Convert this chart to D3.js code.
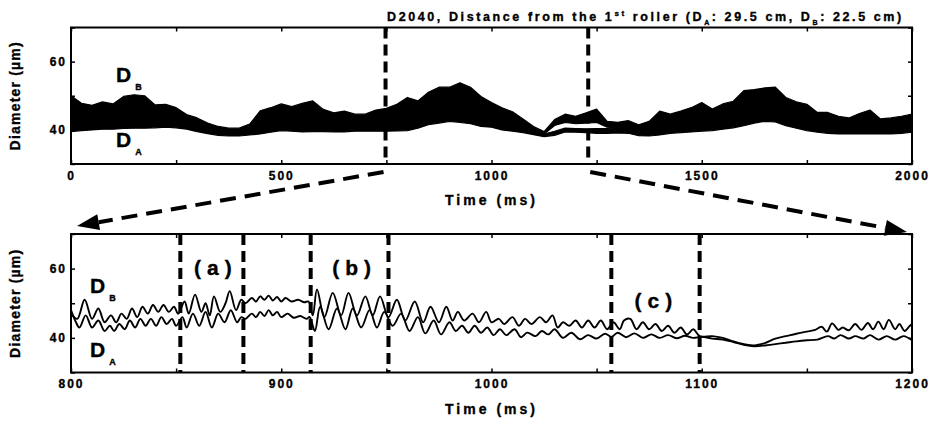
<!DOCTYPE html>
<html>
<head>
<meta charset="utf-8">
<script src="https://cdn.jsdelivr.net/npm/d3@7"></script>
<style>
  body { margin: 0; background: #fff; }
  text { font-family: "Liberation Sans", Arial, sans-serif; font-weight: bold; fill: #000; stroke: #000; stroke-width: 0.35px; }
</style>
</head>
<body>
<script>
// ---- data ----
// top panel: envelope of the noisy traces, every 25 ms
const topTime = [0,25,50,75,100,125,150,175,200,225,250,275,300,325,350,375,400,425,450,475,500,
  525,550,575,600,625,650,675,700,725,750,775,800,825,850,875,900,925,950,975,1000,
  1025,1050,1075,1100,1125,1150,1175,1200,1225,1250,1275,1300,1325,1350,1375,1400,1425,1450,1475,1500,
  1525,1550,1575,1600,1625,1650,1675,1700,1725,1750,1775,1800,1825,1850,1875,1900,1925,1950,1975,2000];
const topALow  = [39.5,39.8,40,40.2,40.2,40.4,40.5,40.5,40.6,40.8,40.6,40.2,39.5,38.9,38.4,38.2,38.2,38.5,38.8,39.3,39.8,
  39.6,39.4,39.5,39.5,39.4,39.4,39.6,39.6,39.6,39.6,39.7,39.8,40.5,41.5,42,42.5,42.2,41.8,41,40.8,
  40,39.6,39.2,38.6,38,38.4,39.4,39.3,39.2,39,39,39.1,39,38.3,38.2,38.5,39,39.2,39.4,39.6,
  39.8,40.2,40.6,41.2,42,42.5,42.3,41.2,40.5,39.8,39.3,39,38.8,38.8,38.8,38.8,38.8,38.8,39,39.3];
const topAHigh = [45,44,43.8,44.4,44,45,45.5,45.3,44,44.2,43.6,42.4,41.6,40.5,39.8,39.4,39.4,40.2,42.3,43,43.8,
  43.3,43.7,44,42.8,42.3,42.5,42.2,42.2,42.8,43,43.7,44.7,44.6,46.4,47.3,47.6,48,47.2,45.5,44.5,
  43.3,42.3,41,39.8,38.8,39.6,40.5,40.4,40.3,40.4,40.4,40.6,40.8,39.9,40.3,42,41.8,42.3,43,43.8,
  43,43.9,44.5,46.3,46.9,47.4,47.4,45.4,44.4,43.7,42.2,42,41.4,41.2,41.8,42.3,41,41.2,41.5,42];
const topBLow  = [43,42.8,42.8,43,43,43.5,44,44,43,43,42.8,41.8,41,40,39.4,39.2,39.2,39.8,41.5,42.2,42.8,
  42.5,42.8,43.2,42,41.6,41.8,41.5,41.5,42,42.3,42.8,43.6,43.7,45.2,46.2,46.5,46.8,46,44.5,43.6,
  42.6,42,41,39.8,38.8,41.3,42.2,41.8,42,42.2,40.8,40.6,40.6,39.6,40,41.2,41.2,41.6,42.2,42.8,
  42.4,43,43.5,45.2,45.8,46.3,46.3,44.5,43.5,42.8,41.6,41.4,40.9,40.7,41.2,41.6,40.6,40.7,41,41.4];
const topBHigh = [50,47.8,47.2,48.2,47.6,49.8,50.3,50,47.3,47.5,46.5,44.5,43.5,42,41,40.5,40.5,41.7,45.6,46.5,47.6,
  46.8,47.8,48.5,46,45,45.5,44.6,44.6,45.8,46.3,47.5,49.5,48.5,51,52.5,52.5,53.8,52.5,49.8,48,
  46.5,45.3,43.2,41,39.5,43,44.6,44,45,46.1,42.5,42.2,42.7,41.5,42.5,45.5,44.6,45.5,46.5,48,
  46.1,47.6,48.4,51.5,51.8,52.3,52.5,49.5,48.2,47.5,45.1,45.1,44,43.5,44.8,45.8,43.2,43.5,44,44.6];

// bottom panel: peaks and troughs of each trace, 800-1200 ms
const zoomTimeB = [800,803,806.5,810,813,816,819,821.5,824,826.5,829,831.5,834,836.5,839,841.5,844,846.5,849,851,
  854,856,859,862,864,866,868,871,873.5,875.5,878.5,881,
  883,886,888,890,892,894,896,898,900,902,905,908,911,913,
  915,917,920.5,924.5,928.5,932,936,940,943.5,947,951,
  955,959,963.5,967.5,971,975,978.5,981.5,984,987,991,994,997.5,1000,1003.5,1006,1010,1013,1016,1019,1023,1026,1029,1031.5,1034,1037,1040,1043,1046,1049,1052,1055,
  1058,1061,1063,1066,1069,1072,1075,1078,1081,1084,1087,1090,1093,1096,1099,
  1105,1110,1115,1120,1125,1130,1135,1140,1145,1150,1154,1157,1159.5,1162,1165,1167,1170,1173,1176,1179,1181.5,1184,1186.5,1189,1192,1194,1196.5,1199,1200];
const zoomDB = [47,45.5,51,45.5,48.5,44.5,46.5,44.5,47,45.5,48.5,46,49,47,49.5,47.5,49.5,47.5,49,47,
  50.5,47,52.5,47.5,50,46.5,52,47.5,50,53.5,48,51,
  50,51.5,50.5,52,51,52.2,50.8,51.8,50.5,51.5,50.5,51,50.3,50.5,
  46.5,54,46,53,46.5,53,46.5,52,46.5,52,46,
  51,45,50.5,44.5,49,44.5,49,45,47.5,45,47,44.5,47.5,44.5,45.5,44,46,43.5,45.5,44,46,44.5,46.5,43,44.5,43.5,45,43,45,43,45,42.5,
  44.5,42.5,45,45.5,42.5,44.5,42.5,44,42,43.5,41.5,43,41,42.5,40.5,
  40.5,40,39,38.2,37.8,38.5,39.8,40.5,41.2,41.8,42.3,43.2,41.8,44.2,42.3,43,42.2,44,42.3,44.3,42.5,44.7,42.5,45.2,42.5,44,42,43.5,44];
const zoomTimeA = [800,802,804,807,810,813,816,818.5,820.5,823,825.5,828,830.5,833,835.5,838,840.5,843,845.5,848,850,
  853,855,858,861,864,867,870,873,876,879,881,
  883,886,888,890,892,894,896,898,900,903,906,909,912,913.5,
  916,918.5,922.5,926.5,930.5,934,938,942,945.5,949,953,
  957,961,965,968.5,972.5,976,980,983,986,989,992,995,998,1001,1004,1007,1011,1014,1017,1021,1024,1027,1030,1034,1038,1042,1046,1050,1054,1057,
  1060,1064,1068,1072,1076,1080,1084,1088,1092,1096,1100,
  1105,1110,1115,1120,1125,1130,1135,1140,1145,1150,1155,1160,1163,1166,1170,1173,1177,1180,1184,1188,1192,1196,1200];
const zoomDA = [48,45,43,46.5,43,45,42,43.5,42,44,42.5,45,43,45.5,43.5,45.5,43.5,46,44,45.5,43.5,
  46,43,47,43.5,47.5,43,47,44.5,48,44.5,46,
  45.5,47,46,47.5,46.3,48,46.5,47.5,46,47,45.8,46.3,45.5,46,
  42,49,42.5,48.5,42.5,48.5,43,48,43,47.5,43.5,
  47,42,46,41.3,45,41,44.5,42,43.5,41.5,43.5,41.5,43,40.8,42.5,40.8,42.5,40.2,41.5,40.5,42,41,42.5,40,41.5,39.6,40.8,39.8,41.2,40.3,
  41.5,40.2,41.3,40,41,40,40.8,39.9,40.6,40,40.3,
  39.8,39.5,38.8,38,37.6,37.8,38.2,38.6,39,39.3,39.5,40.5,39.8,40.8,39.8,40.5,39.8,40.8,39.5,40.5,39.5,40.5,39.3];

const zoomWindow = [748, 1230];            // dashed marks in the top panel
const regionMarks = [852, 882, 914, 951, 1057, 1099];
const regionNames = ["(a)", "(b)", "(c)"];
const regionTimes = [867.5, 933.5, 1077];
const regionLevels = [58.3, 58.3, 48.6];
const topTicks = [0,250,500,750,1000,1250,1500,1750,2000];
const topTickLabels = [0,500,1000,1500,2000];
const zoomTicks = [800,850,900,950,1000,1050,1100,1150,1200];
const zoomTickLabels = [800,900,1000,1100,1200];
const yTicks = [30,40,50,60,70];
const yTickLabels = [40,60];

// ---- layout ----
const width = 933, height = 424;
const left = 71, right = 912;

const svg = d3.select("body").append("svg")
  .attr("width", width)
  .attr("height", height);

const xTop = d3.scaleLinear().domain([0, 2000]).range([left, right]);
const yTop = d3.scaleLinear().domain([30, 70]).range([164, 27.5]);
const xZoom = d3.scaleLinear().domain([800, 1200]).range([left, right]);
const yZoom = d3.scaleLinear().domain([30, 70]).range([372.5, 234]);

function drawAxes(x, y, ticks, labels) {
  const [y1, y0] = y.range();
  const g = svg.append("g");

  const bottom = g.append("g")
    .attr("transform", `translate(0,${y1})`)
    .call(d3.axisBottom(x).tickValues(ticks).tickSize(-4).tickPadding(7)
      .tickFormat(d => labels.includes(d) ? d : ""));
  g.append("g")
    .attr("transform", `translate(0,${y0})`)
    .call(d3.axisTop(x).tickValues(ticks).tickSize(-4).tickFormat(""));
  const leftAxis = g.append("g")
    .attr("transform", `translate(${x.range()[0]},0)`)
    .call(d3.axisLeft(y).tickValues(yTicks).tickSize(-4).tickPadding(4)
      .tickFormat(d => yTickLabels.includes(d) ? d : ""));
  g.append("g")
    .attr("transform", `translate(${x.range()[1]},0)`)
    .call(d3.axisRight(y).tickValues(yTicks).tickSize(-4).tickFormat(""));

  g.selectAll(".domain").remove();
  g.selectAll(".tick line").attr("stroke", "#000").attr("stroke-width", 1.5);
  g.selectAll(".tick text")
    .attr("font-size", 12)
    .attr("font-family", "Liberation Sans, Arial, sans-serif")
    .attr("font-weight", "bold")
    .attr("fill", "#000");
  bottom.selectAll(".tick text").style("letter-spacing", "2px");
  leftAxis.selectAll(".tick text").style("letter-spacing", "2px");

  g.append("rect")
    .attr("x", x.range()[0])
    .attr("y", y0)
    .attr("width", x.range()[1] - x.range()[0])
    .attr("height", y1 - y0)
    .attr("fill", "none")
    .attr("stroke", "#000")
    .attr("stroke-width", 2);

  // axis titles
  svg.append("text")
    .attr("x", (x.range()[0] + x.range()[1]) / 2)
    .attr("y", y1 + 41)
    .attr("text-anchor", "middle")
    .attr("font-size", 14)
    .style("letter-spacing", "3px")
    .text("Time (ms)");
  svg.append("text")
    .attr("transform", `translate(20,${(y0 + y1) / 2}) rotate(-90)`)
    .attr("text-anchor", "middle")
    .attr("font-size", 14)
    .style("letter-spacing", "1.2px")
    .text("Diameter (\u00b5m)");
}

function seriesLabel(x, y, sub) {
  const t = svg.append("text").attr("x", x).attr("y", y);
  t.append("tspan").attr("font-size", 21).text("D");
  t.append("tspan").attr("font-size", 9).attr("dx", 4).attr("dy", 8).text(sub);
}

// ---- top panel ----
const topRows = topTime.map((t, i) => ({
  t, aLo: topALow[i], aHi: topAHigh[i], bLo: topBLow[i], bHi: topBHigh[i]
}));

const bandA = d3.area().x(d => xTop(d.t)).y0(d => yTop(d.aLo)).y1(d => yTop(d.aHi));
const bandB = d3.area().x(d => xTop(d.t)).y0(d => yTop(d.bLo)).y1(d => yTop(d.bHi));

svg.append("path").datum(topRows).attr("d", bandA)
  .attr("fill", "#000").attr("stroke", "#000").attr("stroke-width", 1.2).attr("stroke-linejoin", "round");
svg.append("path").datum(topRows).attr("d", bandB)
  .attr("fill", "#000").attr("stroke", "#000").attr("stroke-width", 1.2).attr("stroke-linejoin", "round");

drawAxes(xTop, yTop, topTicks, topTickLabels);

svg.selectAll(".zoom-mark")
  .data(zoomWindow)
  .enter()
  .append("line")
  .attr("x1", d => xTop(d)).attr("x2", d => xTop(d))
  .attr("y1", yTop(70)).attr("y2", yTop(30))
  .attr("stroke", "#000").attr("stroke-width", 4)
  .attr("stroke-dasharray", "11,6");

seriesLabel(116, 82, "B");
seriesLabel(116, 147, "A");

// title
const title = svg.append("text")
  .attr("x", 387).attr("y", 20.5)
  .attr("font-size", 12.5)
  .style("letter-spacing", "2.6px");
title.append("tspan").text("D2040, Distance from the 1");
title.append("tspan").attr("font-size", 8).attr("dy", -5).text("st");
title.append("tspan").attr("dy", 5).text(" roller (D");
title.append("tspan").attr("font-size", 7).attr("dy", 4).text("A");
title.append("tspan").attr("dy", -4).text(": 29.5 cm, D");
title.append("tspan").attr("font-size", 7).attr("dy", 4).text("B");
title.append("tspan").attr("dy", -4).text(": 22.5 cm)");

// ---- bottom panel ----
const line = d3.line().curve(d3.curveCatmullRom.alpha(0.5))
  .x(d => xZoom(d[0])).y(d => yZoom(d[1]));

svg.append("path")
  .datum(zoomTimeB.map((t, i) => [t, zoomDB[i]]))
  .attr("d", line)
  .attr("fill", "none").attr("stroke", "#000").attr("stroke-width", 1.9);
svg.append("path")
  .datum(zoomTimeA.map((t, i) => [t, zoomDA[i]]))
  .attr("d", line)
  .attr("fill", "none").attr("stroke", "#000").attr("stroke-width", 1.9);

drawAxes(xZoom, yZoom, zoomTicks, zoomTickLabels);

svg.selectAll(".region-mark")
  .data(regionMarks)
  .enter()
  .append("line")
  .attr("x1", d => xZoom(d)).attr("x2", d => xZoom(d))
  .attr("y1", yZoom(70)).attr("y2", yZoom(30))
  .attr("stroke", "#000").attr("stroke-width", 4)
  .attr("stroke-dasharray", "11,6");

svg.selectAll(".region-name")
  .data(regionNames)
  .enter()
  .append("text")
  .attr("x", (d, i) => xZoom(regionTimes[i]))
  .attr("y", (d, i) => yZoom(regionLevels[i]))
  .attr("dx", 3)
  .attr("text-anchor", "middle")
  .attr("font-size", 21)
  .style("letter-spacing", "6px")
  .text(d => d);

seriesLabel(90, 293, "B");
seriesLabel(90, 357, "A");

// ---- arrows from the top window to the zoomed panel ----
function dashedArrow(x1, y1, x2, y2) {
  const ang = Math.atan2(y2 - y1, x2 - x1);
  const len = 22, half = 8;
  const bx = x2 - len * Math.cos(ang), by = y2 - len * Math.sin(ang);
  svg.append("line")
    .attr("x1", x1).attr("y1", y1).attr("x2", bx).attr("y2", by)
    .attr("stroke", "#000").attr("stroke-width", 4)
    .attr("stroke-dasharray", "16,9");
  svg.append("path")
    .attr("d", d3.line()([
      [x2, y2],
      [bx + half * Math.sin(ang), by - half * Math.cos(ang)],
      [bx - half * Math.sin(ang), by + half * Math.cos(ang)]
    ]) + "Z")
    .attr("fill", "#000");
}

dashedArrow(xTop(zoomWindow[0]) - 2, 172, xZoom(800) + 6, yZoom(70) - 8);
dashedArrow(xTop(zoomWindow[1]) + 2, 172, xZoom(1200) - 5, yZoom(70) - 2);
</script>
</body>
</html>
